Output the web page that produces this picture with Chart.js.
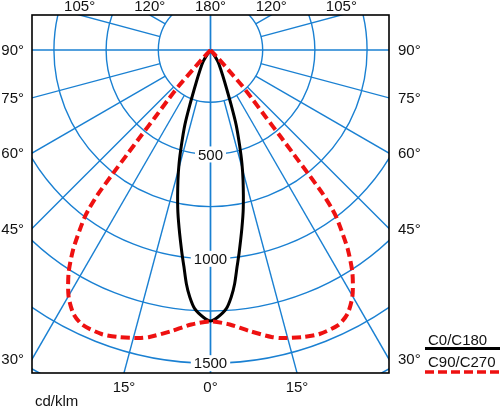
<!DOCTYPE html>
<html>
<head>
<meta charset="utf-8">
<script src="https://cdn.jsdelivr.net/npm/chart.js@4.4.1/dist/chart.umd.min.js"></script>
<style>
  html, body { margin: 0; padding: 0; background: #fff; }
  #wrap { width: 500px; height: 409px; position: relative; }
</style>
</head>
<body>
<div id="wrap"><canvas id="polar"></canvas></div>
<script>
// C0/C180 plane (cd/klm vs. gamma angle in degrees)
const c0Angles = [0, 1.6, 3.5, 4.8, 5.9, 7, 8, 10, 11.7, 14, 15.5, 17, 18.9, 20.6, 24, 28, 32.5, 36, 40];
const c0Values = [1298, 1279, 1241, 1187, 1125, 1045, 983, 866, 774, 645, 563, 476, 380, 282, 166, 105, 66, 30, 0];

// C90/C270 plane
const c90Angles = [0, 4, 8, 12, 14, 18, 21, 25, 27.5, 30, 32.5, 34.5, 36, 37, 37.5, 38, 38.3, 38.6, 39, 39.5, 40.5, 41.5, 41.8, 43, 48];
const c90Values = [1300, 1318, 1360, 1405, 1422, 1445, 1457, 1452, 1423, 1360, 1265, 1163, 1066, 1000, 950, 870, 760, 640, 530, 420, 310, 230, 150, 60, 0];

// grid
const ringValues = [250, 500, 750, 1000, 1250, 1500, 1750, 2000];
const ringLabels = [500, 1000, 1500];
const rayAngles = [0, 15, 30, 45, 60, 75, 90, 105, 120, 135, 150, 165, 180];
const legendLabels = ["C0/C180", "C90/C270"];
const unitLabel = "cd/klm";

const GRID = "#1a80d2";
const RED = "#ee1111";
const FONT = "15px 'Liberation Sans', Arial, sans-serif";

// polar -> cartesian, left half (C180/C270) mirrored from right half
function toPoints(angles, values) {
  const pts = [];
  for (let i = angles.length - 1; i >= 0; i--) {
    const a = angles[i] * Math.PI / 180;
    pts.push({ x: -values[i] * Math.sin(a), y: -values[i] * Math.cos(a) });
  }
  for (let i = 1; i < angles.length; i++) {
    const a = angles[i] * Math.PI / 180;
    pts.push({ x: values[i] * Math.sin(a), y: -values[i] * Math.cos(a) });
  }
  return pts;
}

const polarGrid = {
  id: "polarGrid",
  beforeDatasetsDraw(chart) {
    const { ctx, chartArea: ca, scales: { x, y } } = chart;
    const cx = x.getPixelForValue(0), cy = y.getPixelForValue(0);
    const k = x.getPixelForValue(1000) - cx;   // px per 1000
    const r0 = ringValues[0] * k / 1000;
    ctx.save();
    ctx.beginPath();
    ctx.rect(ca.left, ca.top, ca.right - ca.left, ca.bottom - ca.top);
    ctx.clip();
    ctx.strokeStyle = GRID;
    ctx.lineWidth = 1.4;
    ringValues.forEach(v => {
      ctx.beginPath();
      ctx.arc(cx, cy, v * k / 1000, 0, Math.PI * 2);
      ctx.stroke();
    });
    rayAngles.forEach(deg => {
      const a = deg * Math.PI / 180;
      const start = (deg % 90 === 0) ? 0 : r0;
      [-1, 1].forEach(side => {
        const dx = side * Math.sin(a), dy = Math.cos(a);
        ctx.beginPath();
        ctx.moveTo(cx + dx * start, cy + dy * start);
        ctx.lineTo(cx + dx * 900, cy + dy * 900);
        ctx.stroke();
      });
    });
    ctx.restore();

    // value labels on the 0 deg axis
    ctx.save();
    ctx.font = FONT;
    ctx.textAlign = "center";
    ctx.textBaseline = "middle";
    ringLabels.forEach(v => {
      const py = y.getPixelForValue(-v);
      const w = ctx.measureText(String(v)).width;
      ctx.fillStyle = "#fff";
      ctx.fillRect(cx - w / 2 - 3, py - 8, w + 6, 16);
      ctx.fillStyle = "#111";
      ctx.fillText(String(v), cx, py + 1);
    });
    ctx.restore();
  },
  afterDraw(chart) {
    const { ctx, chartArea: ca, scales: { x, y } } = chart;
    const cx = x.getPixelForValue(0), cy = y.getPixelForValue(0);
    const k = x.getPixelForValue(1000) - cx;
    const r0 = ringValues[0] * k / 1000;
    ctx.save();
    ctx.strokeStyle = "#000";
    ctx.lineWidth = 1.6;
    ctx.strokeRect(ca.left, ca.top, ca.right - ca.left, ca.bottom - ca.top);

    // angle labels where the rays leave the frame
    ctx.font = FONT;
    ctx.fillStyle = "#111";
    ctx.textBaseline = "middle";
    const done = {};
    rayAngles.forEach(deg => {
      const a = deg * Math.PI / 180;
      [-1, 1].forEach(side => {
        const dx = side * Math.sin(a), dy = Math.cos(a);
        let t = Infinity, edge = "";
        if (dx < -1e-9) { const tt = (ca.left - cx) / dx; if (tt < t) { t = tt; edge = "left"; } }
        if (dx > 1e-9) { const tt = (ca.right - cx) / dx; if (tt < t) { t = tt; edge = "right"; } }
        if (dy > 1e-9) { const tt = (ca.bottom - cy) / dy; if (tt < t) { t = tt; edge = "bottom"; } }
        if (dy < -1e-9) { const tt = (ca.top - cy) / dy; if (tt < t) { t = tt; edge = "top"; } }
        // short rays (inside the first ring) are not drawn, so no label
        if (deg % 90 !== 0 && t < r0) return;
        const px = cx + dx * t, py = cy + dy * t;
        const key = edge + Math.round(px) + "_" + Math.round(py);
        if (done[key]) return;
        done[key] = true;
        const txt = deg + "°";
        if (edge === "left") { ctx.textAlign = "right"; ctx.fillText(txt, ca.left - 8, py + 1); }
        else if (edge === "right") { ctx.textAlign = "left"; ctx.fillText(txt, ca.right + 9, py + 1); }
        else if (edge === "top") { ctx.textAlign = "center"; ctx.fillText(txt, px, ca.top - 8); }
        else { ctx.textAlign = "center"; ctx.fillText(txt, px, ca.bottom + 15); }
      });
    });

    ctx.textAlign = "left";
    ctx.textBaseline = "alphabetic";
    ctx.fillText(unitLabel, 35, 406);

    // legend
    ctx.fillText(legendLabels[0], 428, 345);
    ctx.strokeStyle = "#000";
    ctx.lineWidth = 3;
    ctx.beginPath(); ctx.moveTo(425, 348.5); ctx.lineTo(500, 348.5); ctx.stroke();
    ctx.fillText(legendLabels[1], 428, 367);
    ctx.strokeStyle = RED;
    ctx.lineWidth = 3.5;
    ctx.setLineDash([9, 4]);
    ctx.beginPath(); ctx.moveTo(425, 372); ctx.lineTo(500, 372); ctx.stroke();
    ctx.restore();
  }
};

new Chart(document.getElementById("polar"), {
  type: "scatter",
  data: {
    datasets: [
      {
        label: legendLabels[1],
        data: toPoints(c90Angles, c90Values),
        showLine: true,
        borderColor: RED,
        borderWidth: 4,
        borderDash: [9, 4.5],
        pointRadius: 0,
        tension: 0.25
      },
      {
        label: legendLabels[0],
        data: toPoints(c0Angles, c0Values),
        showLine: true,
        borderColor: "#000",
        borderWidth: 3,
        pointRadius: 0,
        tension: 0.25
      }
    ]
  },
  options: {
    responsive: true,
    maintainAspectRatio: false,
    animation: false,
    layout: { padding: { left: 32, right: 111, top: 15, bottom: 36 } },
    scales: {
      x: { type: "linear", display: false, min: -855, max: 855 },
      y: { type: "linear", display: false, min: -1547, max: 168 }
    },
    plugins: { legend: { display: false }, tooltip: { enabled: false } }
  },
  plugins: [polarGrid]
});
</script>
</body>
</html>
